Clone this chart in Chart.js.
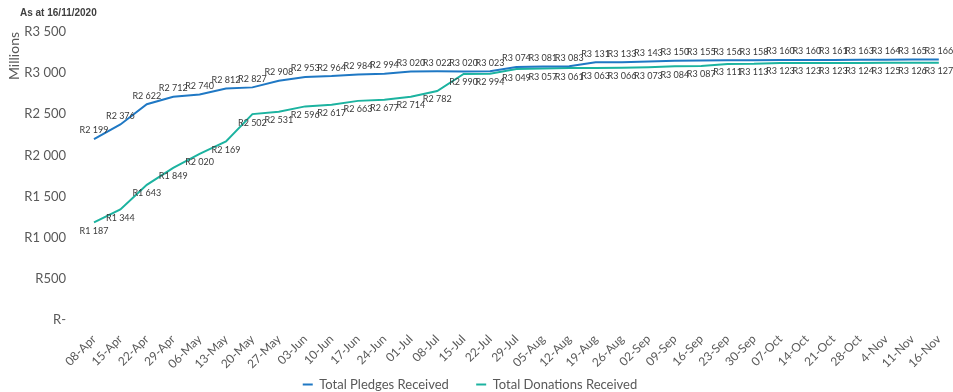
<!DOCTYPE html>
<html>
<head>
<meta charset="utf-8">
<script src="https://cdn.jsdelivr.net/npm/chart.js@4/dist/chart.umd.min.js"></script>
<style>
  html, body { margin: 0; padding: 0; background: #ffffff; }
  #wrap { width: 953px; height: 392px; position: relative; }
</style>
</head>
<body>
<div id="wrap"><canvas id="c" width="953" height="392"></canvas></div>
<script>
const categories = ['08-Apr','15-Apr','22-Apr','29-Apr','06-May','13-May','20-May','27-May','03-Jun','10-Jun','17-Jun','24-Jun','01-Jul','08-Jul','15-Jul','22-Jul','29-Jul','05-Aug','12-Aug','19-Aug','26-Aug','02-Sep','09-Sep','16-Sep','23-Sep','30-Sep','07-Oct','14-Oct','21-Oct','28-Oct','4-Nov','11-Nov','16-Nov'];
const pledges = [2199,2376,2622,2712,2740,2812,2827,2908,2953,2964,2984,2994,3020,3022,3020,3023,3074,3081,3083,3131,3133,3143,3150,3155,3156,3158,3160,3160,3161,3163,3164,3165,3166];
const donations = [1187,1344,1643,1849,2020,2169,2502,2531,2596,2617,2663,2677,2714,2782,2990,2994,3049,3057,3061,3063,3066,3073,3084,3087,3111,3113,3123,3123,3123,3124,3125,3126,3127];
const yTickValues = [0,500,1000,1500,2000,2500,3000,3500];
const yTickLabels = ['R-','R500','R1 000','R1 500','R2 000','R2 500','R3 000','R3 500'];
const seriesNames = ['Total Pledges Received','Total Donations Received'];
const subtitle = 'As at 16/11/2020';
const yTitle = 'Millions';

function fmt(v) {
  const s = String(v);
  return 'R' + (s.length > 3 ? s.slice(0, s.length - 3) + ' ' + s.slice(-3) : s);
}

const labelPlugin = {
  id: 'pointLabels',
  afterDatasetsDraw(chart) {
    const ctx = chart.ctx;
    ctx.save();
    ctx.font = '9px Lato, "Open Sans", sans-serif';
    ctx.fillStyle = '#3a3a3a';
    ctx.textAlign = 'center';
    chart.data.datasets.forEach((ds, i) => {
      const meta = chart.getDatasetMeta(i);
      meta.data.forEach((pt, j) => {
        if (i === 0) {
          ctx.textBaseline = 'bottom';
          ctx.fillText(fmt(ds.data[j]), pt.x, pt.y - 4);
        } else {
          ctx.textBaseline = 'top';
          ctx.fillText(fmt(ds.data[j]), pt.x, pt.y + 4);
        }
      });
    });
    ctx.restore();
  }
};

const subtitlePlugin = {
  id: 'subtitleText',
  afterDraw(chart) {
    const ctx = chart.ctx;
    ctx.save();
    ctx.font = 'bold 10px "Liberation Sans", Arial, sans-serif';
    ctx.fillStyle = '#404040';
    ctx.textAlign = 'left';
    ctx.textBaseline = 'middle';
    ctx.fillText(subtitle, 20, 13);
    ctx.restore();
  }
};

new Chart(document.getElementById('c'), {
  type: 'line',
  data: {
    labels: categories,
    datasets: [
      { label: seriesNames[0], data: pledges, borderColor: '#1F78C4', backgroundColor: '#1F78C4', borderWidth: 2, pointRadius: 0, tension: 0, fill: false },
      { label: seriesNames[1], data: donations, borderColor: '#1CB3A0', backgroundColor: '#1CB3A0', borderWidth: 2, pointRadius: 0, tension: 0, fill: false }
    ]
  },
  options: {
    responsive: false,
    animation: false,
    devicePixelRatio: 1,
    layout: { padding: { top: 32, right: 13, left: 0, bottom: -9 } },
    plugins: {
      legend: {
        position: 'bottom',
        labels: {
          boxWidth: 10,
          boxHeight: 2,
          padding: 4,
          color: '#595959',
          font: { family: 'Lato, "Open Sans", sans-serif', size: 13 },
          generateLabels(chart) {
            return chart.data.datasets.map((ds, i) => ({
              text: ds.label + (i === 0 ? '\u00a0'.repeat(7) : ''),
              fillStyle: ds.borderColor,
              strokeStyle: ds.borderColor,
              lineWidth: 0,
              fontColor: '#595959',
              hidden: false,
              datasetIndex: i
            }));
          }
        }
      },
      tooltip: { enabled: false }
    },
    scales: {
      x: {
        offset: false,
        grid: { display: false },
        border: { display: false },
        ticks: {
          autoSkip: false,
          maxRotation: 45,
          minRotation: 45,
          padding: 4,
          color: '#595959',
          font: { family: 'Lato, "Open Sans", sans-serif', size: 12 }
        },
        afterFit(scale) { scale.height = 54; }
      },
      y: {
        min: 0,
        max: 3500,
        grid: { display: false },
        border: { display: false },
        afterBuildTicks(scale) { scale.ticks = yTickValues.map(v => ({ value: v })); },
        ticks: {
          padding: 20,
          color: '#595959',
          font: { family: 'Lato, "Open Sans", sans-serif', size: 13 },
          callback(value) { const k = yTickValues.indexOf(value); return k >= 0 ? yTickLabels[k] : ''; }
        },
        title: {
          display: true,
          text: yTitle,
          align: 'end',
          color: '#595959',
          padding: { top: 6, bottom: 0 },
          font: { family: 'Lato, "Open Sans", sans-serif', size: 14 }
        },
        afterFit(scale) { scale.width = 94; }
      }
    }
  },
  plugins: [labelPlugin, subtitlePlugin]
});
</script>
</body>
</html>
